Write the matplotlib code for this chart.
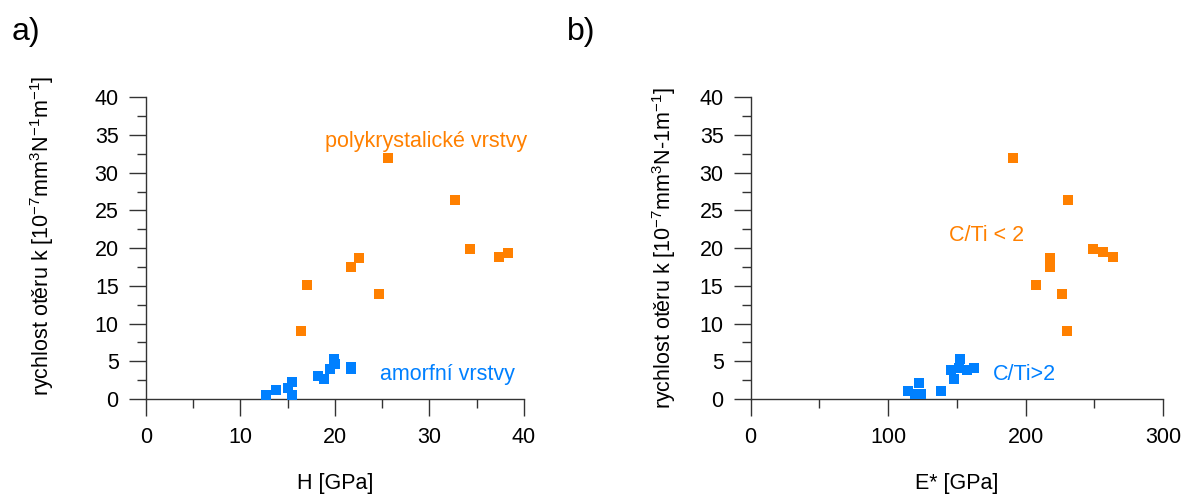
import numpy as np
import matplotlib.pyplot as plt
from matplotlib.ticker import MultipleLocator

plt.rcParams['font.family'] = ['Liberation Sans', 'DejaVu Sans']

orange = '#ff8000'
blue = '#0080ff'

# polykrystalické vrstvy (C/Ti < 2)
H_poly = [25.6, 32.7, 34.3, 38.3, 37.4, 22.5, 21.7, 17.0, 24.7, 16.4]
E_poly = [190.6, 231.1, 249.0, 256.3, 263.5, 217.8, 217.8, 207.6, 226.5, 230.2]
k_poly = [32.0, 26.4, 19.9, 19.4, 18.8, 18.7, 17.5, 15.1, 13.9, 9.0]
k_poly_E = [32.0, 26.4, 19.9, 19.5, 18.8, 18.7, 17.5, 15.1, 13.9, 9.0]

# amorfní vrstvy (C/Ti > 2)
H_amor = [12.75, 13.8, 15.0, 15.45, 15.5, 18.2, 18.9, 19.5, 19.95, 20.0, 21.7, 21.7]
k_amor = [0.55, 1.2, 1.5, 2.2, 0.5, 3.1, 2.7, 4.0, 5.3, 4.6, 3.95, 4.3]
E_amor = [114.2, 122.5, 119.5, 123.7, 138.3, 145.5, 148.0, 152.5, 151.5, 157.6, 162.7]
k_amor_E = [1.1, 2.1, 0.65, 0.65, 1.1, 3.8, 2.6, 5.25, 4.05, 3.9, 4.15]

ylab_H = (r'rychlost otěru k [10$^{\mathregular{-7}}$mm$^{\mathregular{3}}$'
          r'N$^{\mathregular{-1}}$m$^{\mathregular{-1}}$]')
ylab_E = (r'rychlost otěru k [10$^{\mathregular{-7}}$mm$^{\mathregular{3}}$'
          r'N-1m$^{\mathregular{-1}}$]')

fig = plt.figure(figsize=(11.84, 4.95), dpi=100)
ax1 = fig.add_axes([0.1231, 0.1939, 0.3195, 0.6095])
ax2 = fig.add_axes([0.6340, 0.1939, 0.3482, 0.6095])


def style(ax, xmax, xmajor, xminor):
    ax.set_xlim(0, xmax)
    ax.set_ylim(0, 40)
    for s in ('top', 'right'):
        ax.spines[s].set_visible(False)
    for s in ('left', 'bottom'):
        ax.spines[s].set_color('#333333')
        ax.spines[s].set_linewidth(1.0)
    ax.xaxis.set_major_locator(MultipleLocator(xmajor))
    ax.xaxis.set_minor_locator(MultipleLocator(xminor))
    ax.yaxis.set_major_locator(MultipleLocator(5))
    ax.yaxis.set_minor_locator(MultipleLocator(2.5))
    ax.tick_params(which='major', direction='out', length=12.5, width=1.0,
                   color='#333333', labelsize=15.5)
    ax.tick_params(which='minor', direction='out', length=6.2, width=1.0,
                   color='#333333')
    ax.tick_params(axis='y', which='major', pad=7)
    ax.tick_params(axis='x', which='major', pad=8)


# a) tvrdost
style(ax1, 40, 10, 5)
ax1.scatter(H_poly, k_poly, marker='s', s=58, color=orange, linewidths=0,
            clip_on=False, zorder=3)
ax1.scatter(H_amor, k_amor, marker='s', s=58, color=blue, linewidths=0,
            clip_on=False, zorder=3)
ax1.text(19.0, 34.2, 'polykrystalické vrstvy', color=orange, fontsize=15.5,
         ha='left', va='center')
ax1.text(24.8, 3.2, 'amorfní vrstvy', color=blue, fontsize=15.5,
         ha='left', va='center')
ax1.set_xlabel('H [GPa]', fontsize=15.5)
ax1.xaxis.set_label_coords(0.5, -0.245)

# b) efektivní modul
style(ax2, 300, 100, 50)
ax2.scatter(E_poly, k_poly_E, marker='s', s=58, color=orange, linewidths=0,
            clip_on=False, zorder=3)
ax2.scatter(E_amor, k_amor_E, marker='s', s=58, color=blue, linewidths=0,
            clip_on=False, zorder=3)
ax2.text(144.2, 21.65, 'C/Ti < 2', color=orange, fontsize=15.5,
         ha='left', va='center')
ax2.text(176.6, 3.3, 'C/Ti>2', color=blue, fontsize=15.5,
         ha='left', va='center')
ax2.set_xlabel('E* [GPa]', fontsize=15.5)
ax2.xaxis.set_label_coords(0.5, -0.245)

# svislé popisky os
fig.text(0.041, 0.523, ylab_H, fontsize=15.5, rotation=90,
         rotation_mode='anchor', ha='center', va='baseline')
fig.text(0.5665, 0.499, ylab_E, fontsize=15.5, rotation=90,
         rotation_mode='anchor', ha='center', va='baseline')

fig.text(0.010, 0.935, 'a)', fontsize=23, ha='left', va='center')
fig.text(0.479, 0.935, 'b)', fontsize=23, ha='left', va='center')

fig.savefig('out.png', dpi=100)
